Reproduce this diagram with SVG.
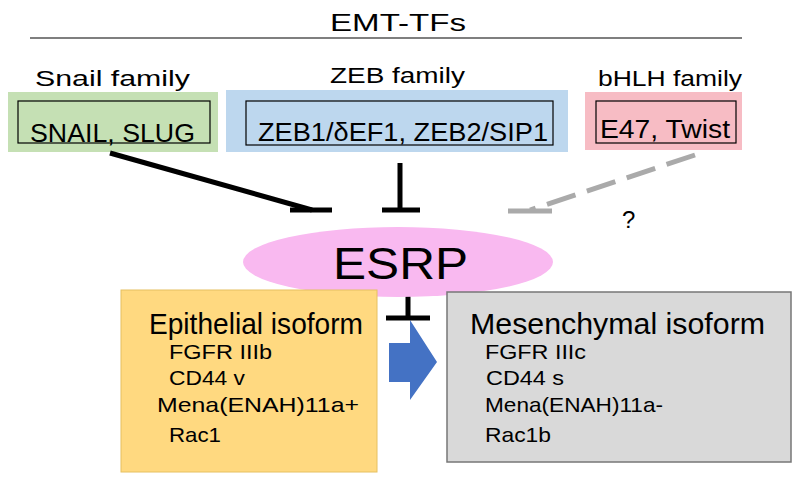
<svg xmlns="http://www.w3.org/2000/svg" width="795" height="482" viewBox="0 0 795 482">
<style>
text{font-family:"Liberation Sans",Arial,sans-serif;fill:#000}
.in{fill:none;stroke:#000;stroke-width:1.2}
.c{stroke:#000;stroke-width:5;fill:none}
</style>
<rect width="795" height="482" fill="#fff"/>
<text x="330" y="31" font-size="23" textLength="136" lengthAdjust="spacingAndGlyphs">EMT-TFs</text>
<line x1="30" y1="38" x2="742" y2="38" stroke="#000" stroke-width="1.2"/>
<g id="snail">
<text x="35" y="86" font-size="22" textLength="155" lengthAdjust="spacingAndGlyphs">Snail family</text>
<rect x="8" y="92" width="210" height="60" fill="#c5e0b4"/>
<rect x="18" y="101" width="192" height="42" class="in"/>
<text x="30" y="142" font-size="25" textLength="165" lengthAdjust="spacingAndGlyphs">SNAIL, SLUG</text>
</g>
<g id="zeb">
<text x="330" y="83" font-size="22" textLength="135" lengthAdjust="spacingAndGlyphs">ZEB family</text>
<rect x="226" y="90" width="342" height="62" fill="#bdd7ee"/>
<rect x="246" y="101" width="307" height="44" class="in"/>
<text x="258" y="141" font-size="25" textLength="290" lengthAdjust="spacingAndGlyphs">ZEB1/δEF1, ZEB2/SIP1</text>
</g>
<g id="bhlh">
<text x="598" y="86" font-size="22" textLength="144" lengthAdjust="spacingAndGlyphs">bHLH family</text>
<rect x="585" y="92" width="157" height="58" fill="#f7bcc4"/>
<rect x="596" y="101" width="140" height="42" class="in"/>
<text x="600" y="138" font-size="25" textLength="130" lengthAdjust="spacingAndGlyphs">E47, Twist</text>
</g>
<g id="connectors">
<line x1="110" y1="153" x2="312" y2="210" class="c"/>
<line x1="290" y1="210" x2="332" y2="210" class="c"/>
<line x1="400" y1="163" x2="400" y2="210" class="c"/>
<line x1="382" y1="210" x2="420" y2="210" class="c"/>
<line x1="695" y1="155" x2="530" y2="210" stroke="#aaa" stroke-width="5" stroke-dasharray="30,12"/>
<line x1="508" y1="211" x2="552" y2="211" stroke="#aaa" stroke-width="5"/>
<polygon points="389,343 410,343 410,320 437,362 410,400 410,382 389,382" fill="#4472c4"/>
<line x1="408" y1="290" x2="408" y2="318" class="c"/>
<line x1="386" y1="318" x2="430" y2="318" class="c"/>
</g>
<text x="622" y="228" font-size="24">?</text>
<g id="esrp">
<ellipse cx="398" cy="262" rx="155" ry="35" fill="#f9b9f0"/>
<text x="333" y="279" font-size="44" textLength="135" lengthAdjust="spacingAndGlyphs">ESRP</text>
</g>
<g id="epithelial">
<rect x="121" y="290" width="256" height="182" fill="#ffd980" stroke="#e6c060" stroke-width="1"/>
<text x="149" y="334" font-size="29" textLength="214" lengthAdjust="spacingAndGlyphs">Epithelial isoform</text>
<text x="169" y="359" font-size="21" textLength="103" lengthAdjust="spacingAndGlyphs">FGFR IIIb</text>
<text x="169" y="385" font-size="21" textLength="76" lengthAdjust="spacingAndGlyphs">CD44 v</text>
<text x="157" y="412" font-size="21" textLength="202" lengthAdjust="spacingAndGlyphs">Mena(ENAH)11a+</text>
<text x="169" y="442" font-size="21" textLength="52" lengthAdjust="spacingAndGlyphs">Rac1</text>
</g>
<g id="mesenchymal">
<rect x="447" y="292" width="344" height="170" fill="#d9d9d9" stroke="#777" stroke-width="1.5"/>
<text x="470" y="334" font-size="29" textLength="295" lengthAdjust="spacingAndGlyphs">Mesenchymal isoform</text>
<text x="485" y="359" font-size="21" textLength="101" lengthAdjust="spacingAndGlyphs">FGFR IIIc</text>
<text x="486" y="385" font-size="21" textLength="78" lengthAdjust="spacingAndGlyphs">CD44 s</text>
<text x="485" y="412" font-size="21" textLength="178" lengthAdjust="spacingAndGlyphs">Mena(ENAH)11a-</text>
<text x="485" y="442" font-size="21" textLength="66" lengthAdjust="spacingAndGlyphs">Rac1b</text>
</g>
</svg>
